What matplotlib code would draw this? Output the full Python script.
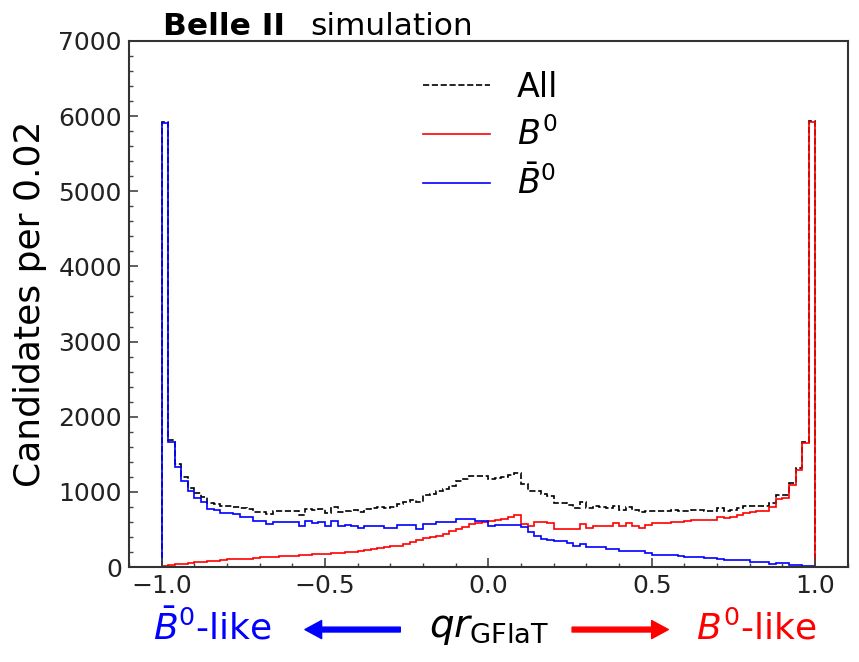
"""
GFlaT flavour tagger output: qr distribution for B0 and anti-B0 candidates
"""
import matplotlib
matplotlib.use('Agg')  # Non-interactive backend
import matplotlib.pyplot as plt
from matplotlib.ticker import MultipleLocator
import numpy as np

# 100 bins of width 0.02 between -1 and 1
bin_edges = np.linspace(-1.0, 1.0, 101)

# Candidates per bin, true B0
counts_b0 = [
    15, 30, 38, 45, 50, 60, 65, 80, 85, 88,
    100, 105, 110, 112, 118, 128, 130, 135, 140, 145,
    150, 158, 162, 168, 172, 178, 182, 188, 195, 205,
    215, 225, 240, 250, 262, 275, 285, 300, 330, 365,
    385, 395, 415, 445, 475, 505, 535, 570, 590, 600,
    615, 630, 640, 660, 690, 570, 545, 600, 605, 580,
    505, 500, 505, 500, 570, 515, 545, 545, 545, 580,
    545, 580, 545, 525, 560, 580, 580, 585, 600, 605,
    610, 625, 625, 630, 628, 670, 655, 660, 690, 725,
    735, 740, 745, 805, 905, 915, 1092, 1291, 1650, 5920,
]

# Candidates per bin, true anti-B0
counts_b0bar = [
    5905, 1660, 1330, 1150, 1005, 920, 860, 775, 760, 725,
    715, 700, 670, 660, 615, 610, 570, 605, 600, 605,
    600, 540, 610, 585, 600, 540, 610, 550, 555, 550,
    515, 545, 545, 550, 520, 520, 555, 560, 555, 500,
    575, 575, 595, 595, 600, 640, 635, 635, 615, 610,
    550, 555, 560, 560, 560, 530, 470, 415, 370, 365,
    350, 350, 315, 285, 300, 272, 270, 260, 238, 235,
    215, 212, 213, 210, 190, 162, 160, 158, 160, 140,
    138, 136, 138, 115, 116, 112, 95, 93, 92, 90,
    72, 70, 71, 42, 50, 48, 28, 27, 20, 18,
]

counts_all = np.array(counts_b0) + np.array(counts_b0bar)

fig = plt.figure(figsize=(8.59, 6.62), dpi=100)
ax = fig.add_axes([0.150, 0.1435, 0.837, 0.7946])

ax.stairs(counts_all, bin_edges, color='k', linestyle='--', linewidth=1.2, label='All')
ax.stairs(counts_b0, bin_edges, color='red', linewidth=1.2, label=r'$B^0$')
ax.stairs(counts_b0bar, bin_edges, color='blue', linewidth=1.2, label=r'$\bar{B}^0$')

ax.set_xlim(-1.1, 1.1)
ax.set_ylim(0, 7000)
ax.xaxis.set_major_locator(MultipleLocator(0.5))
ax.xaxis.set_minor_locator(MultipleLocator(0.1))
ax.yaxis.set_major_locator(MultipleLocator(1000))
ax.yaxis.set_minor_locator(MultipleLocator(200))
ax.tick_params(which='both', direction='in', top=False, right=False,
               color='#444444', labelsize=18, labelcolor='#222222', pad=5)
ax.tick_params(which='major', length=6.5, width=1.2)
ax.tick_params(which='minor', length=3, width=1.0)
for spine in ax.spines.values():
    spine.set_linewidth(1.5)
    spine.set_color('#333333')

ax.set_ylabel('Candidates per 0.02', fontsize=26, labelpad=8)

# Experiment tag above the frame
ax.text(0.047, 1.011, 'Belle II', transform=ax.transAxes, fontsize=22.5,
        fontweight='bold', va='baseline', ha='left')
ax.text(0.252, 1.011, 'simulation', transform=ax.transAxes, fontsize=22.5,
        va='baseline', ha='left')

ax.legend(loc='upper left', bbox_to_anchor=(0.391, 0.968), borderaxespad=0,
          frameon=False, fontsize=24, handlelength=2.0, labelspacing=0.4)

# x-axis label with flavour arrows
fig.text(0.569, 0.051, r'$qr_{\mathrm{GFlaT}}$', fontsize=28, ha='center', va='center')
fig.text(0.247, 0.051, r'$\bar{B}^0$-like', fontsize=26, color='blue', ha='center', va='center')
fig.text(0.880, 0.051, r'$B^0$-like', fontsize=26, color='red', ha='center', va='center')
ax.annotate('', xy=(0.355, 0.049), xytext=(0.466, 0.049), xycoords='figure fraction',
            arrowprops=dict(facecolor='blue', edgecolor='blue', width=3.5,
                            headwidth=13, headlength=12, shrink=0))
ax.annotate('', xy=(0.778, 0.049), xytext=(0.666, 0.049), xycoords='figure fraction',
            arrowprops=dict(facecolor='red', edgecolor='red', width=3.5,
                            headwidth=13, headlength=12, shrink=0))

fig.savefig('out.png', dpi=100)
plt.close(fig)
